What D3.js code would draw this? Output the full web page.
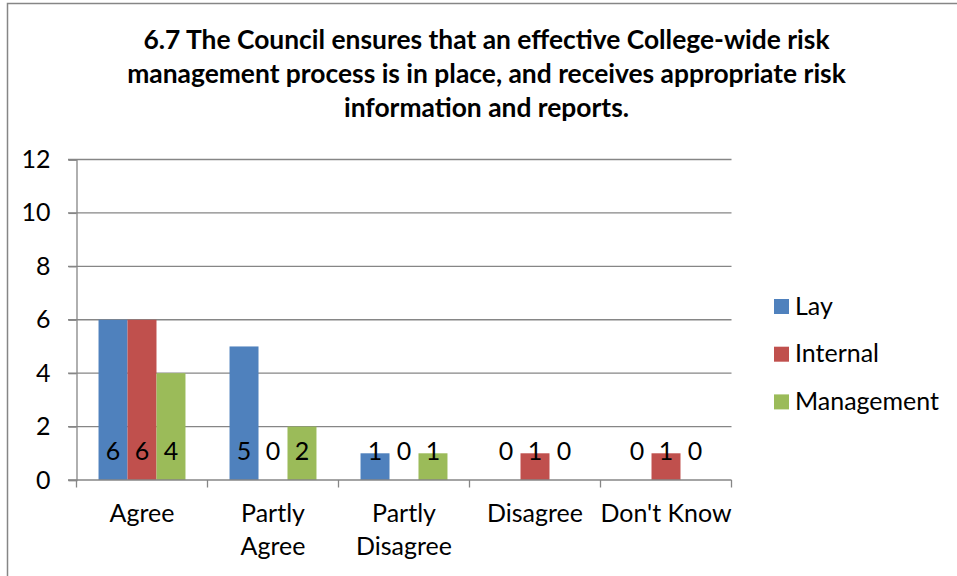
<!DOCTYPE html>
<html><head><meta charset="utf-8">
<script src="https://cdn.jsdelivr.net/npm/d3@7"></script>
<style>html,body{margin:0;padding:0;background:#fff;}svg{display:block;}</style>
</head><body>
<svg id="chart" width="957" height="576"></svg>
<script>
const titleLines = ["6.7 The Council ensures that an effective College-wide risk",
  "management process is in place, and receives appropriate risk",
  "information and reports."];
const categories = ["Agree", "Partly Agree", "Partly Disagree", "Disagree", "Don't Know"];
const categoryLines = [["Agree"], ["Partly", "Agree"], ["Partly", "Disagree"], ["Disagree"], ["Don't Know"]];
const seriesNames = ["Lay", "Internal", "Management"];
const lay = [6, 5, 1, 0, 0];
const internal = [6, 0, 0, 1, 1];
const management = [4, 2, 1, 0, 0];
const yTicks = [0, 2, 4, 6, 8, 10, 12];
const colors = ["#4F81BD", "#C0504D", "#9BBB59"];

const seriesValues = [lay, internal, management];
const svg = d3.select("#chart");
const FONT = "Lato, 'Noto Sans', sans-serif";

function fitSize(text, weight, target) {
  const t = svg.append("text").attr("font-family", FONT).attr("font-weight", weight)
    .attr("font-size", 100).text(text);
  const w = t.node().getComputedTextLength();
  t.remove();
  return 100 * target / w;
}
const titleSize = fitSize(titleLines[1], "bold", 719);
const axisSize = fitSize("Management", "normal", 144);

// chart border
svg.append("rect").attr("x", 7.5).attr("y", 3.5).attr("width", 1000).attr("height", 1000)
  .attr("fill", "none").attr("stroke", "#868686").attr("stroke-width", 1.5);

// title
svg.append("g").selectAll("text").data(titleLines).join("text")
  .attr("x", 486.5).attr("y", (d, i) => 48.5 + i * 34.2)
  .attr("text-anchor", "middle").attr("font-family", FONT).attr("font-weight", "bold")
  .attr("font-size", titleSize).attr("fill", "#000").text(d => d);

const x = d3.scaleBand().domain(categories).range([76.5, 731.5]).paddingInner(0).paddingOuter(0);
const x1 = d3.scaleBand().domain(seriesNames).range([0, x.bandwidth()]).paddingInner(0).paddingOuter(0.76);
const y = d3.scaleLinear().domain([0, 12]).range([480, 159.5]);

// gridlines
svg.append("g").selectAll("line").data(yTicks.filter(d => d > 0)).join("line")
  .attr("x1", 68).attr("x2", 731.5).attr("y1", d => y(d)).attr("y2", d => y(d))
  .attr("stroke", "#868686").attr("stroke-width", 1.3);

// y axis
const yAxis = d3.axisLeft(y).tickValues(yTicks).tickSize(8).tickPadding(18).tickFormat(d3.format("d"));
const gy = svg.append("g").attr("transform", "translate(76.5,0)").call(yAxis);
gy.select(".domain").attr("stroke", "#868686").attr("stroke-width", 1.3);
gy.selectAll(".tick line").attr("stroke", "#868686").attr("stroke-width", 1.3);
gy.selectAll("text").attr("font-family", FONT).attr("font-size", axisSize).attr("fill", "#000");

// bars
const groups = svg.append("g").selectAll("g").data(categories).join("g")
  .attr("transform", d => `translate(${x(d)},0)`);
groups.selectAll("rect").data((c, i) => seriesNames.map((s, k) => ({s, k, v: seriesValues[k][i]}))).join("rect")
  .attr("x", d => x1(d.s)).attr("width", x1.bandwidth())
  .attr("y", d => y(d.v)).attr("height", d => y(0) - y(d.v))
  .attr("fill", d => colors[d.k]);

// x axis
const xAxis = d3.axisBottom(x).tickSize(0).tickFormat("");
const gx = svg.append("g").attr("transform", `translate(0,${y(0)})`).call(xAxis);
gx.select(".domain").attr("stroke", "#868686").attr("stroke-width", 1.3).attr("d", "M68,0H731.5");
const bounds = categories.map(c => x(c)).concat([x.range()[1]]);
gx.append("g").selectAll("line").data(bounds).join("line")
  .attr("x1", d => d).attr("x2", d => d).attr("y1", 0).attr("y2", 7.5)
  .attr("stroke", "#868686").attr("stroke-width", 1.3);

// category labels
svg.append("g").selectAll("text").data(categories).join("text")
  .attr("x", d => x(d) + x.bandwidth() / 2).attr("y", 522)
  .attr("text-anchor", "middle").attr("font-family", FONT).attr("font-size", axisSize).attr("fill", "#000")
  .each(function(d, i) {
    d3.select(this).selectAll("tspan").data(categoryLines[i]).join("tspan")
      .attr("x", x(d) + x.bandwidth() / 2).attr("dy", (t, j) => j === 0 ? 0 : 33).text(t => t);
  });

// data labels
groups.selectAll("text.lbl").data((c, i) => seriesNames.map((s, k) => ({s, k, v: seriesValues[k][i]}))).join("text")
  .attr("class", "lbl")
  .attr("x", d => x1(d.s) + x1.bandwidth() / 2).attr("y", y(0) - 20)
  .attr("text-anchor", "middle").attr("font-family", FONT).attr("font-size", axisSize).attr("fill", "#000")
  .text(d => d.v);

// legend
const lg = svg.append("g").selectAll("g").data(seriesNames).join("g")
  .attr("transform", (d, i) => `translate(774,${299 + i * 47.7})`);
lg.append("rect").attr("width", 15).attr("height", 15).attr("fill", (d, i) => colors[i]);
lg.append("text").attr("x", 21).attr("y", 15.5).attr("font-family", FONT).attr("font-size", axisSize)
  .attr("fill", "#000").text(d => d);
</script>
</body></html>
